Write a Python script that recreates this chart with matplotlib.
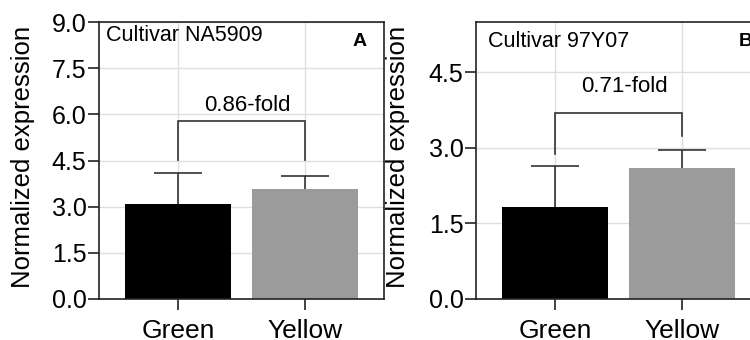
import matplotlib
matplotlib.use("Agg")
import matplotlib.pyplot as plt

plt.rcParams['font.family'] = ['Liberation Sans', 'DejaVu Sans']

categories = ["Green", "Yellow"]
bar_colors = ["#000000", "#9b9b9b"]

# Panel A
a_title = "Cultivar NA5909"
a_label = "A"
a_values = [3.08, 3.57]
a_err = [1.02, 0.43]
a_fold = "0.86-fold"
a_bracket_y = 5.78
a_bracket_legs = [4.52, 4.52]
a_fold_y = 6.3
a_yticks = [0.0, 1.5, 3.0, 4.5, 6.0, 7.5, 9.0]
a_ylim = (0, 9.0)

# Panel B
b_title = "Cultivar 97Y07"
b_label = "B"
b_values = [1.83, 2.60]
b_err = [0.82, 0.35]
b_fold = "0.71-fold"
b_bracket_y = 3.69
b_bracket_legs = [2.87, 3.24]
b_fold_y = 4.21
b_yticks = [0.0, 1.5, 3.0, 4.5]
b_ylim = (0, 5.5)

fig = plt.figure(figsize=(7.5, 3.4), dpi=100)

def panel(rect, values, errs, title, label, fold, by, legs, fy, yticks, ylim,
          title_xy, label_xy, ylabel_x):
    ax = fig.add_axes(rect)
    x = list(range(len(categories)))
    ax.set_axisbelow(True)
    ax.grid(True, color="#dedede", linewidth=1.0)
    ax.bar(x, values, width=0.83, color=bar_colors, zorder=2)
    cont = ax.errorbar(x, values, yerr=[[0] * len(errs), errs], fmt='none',
                       ecolor="#333333", elinewidth=1.2, capsize=17,
                       capthick=1.2, zorder=1.5)
    # hide the (zero-length) lower caps
    for cl in cont[1]:
        yd = list(cl.get_ydata())
        if all(abs(a - b) < 1e-9 for a, b in zip(yd, values)):
            cl.set_visible(False)
    # bracket
    ax.plot([x[0], x[0], x[1], x[1]], [legs[0], by, by, legs[1]],
            color="#333333", linewidth=1.2, zorder=3, solid_joinstyle='miter')
    ax.text((x[0] + x[1]) / 2 + 0.05, fy, fold, ha='center', va='center',
            fontsize=16)
    ax.set_xlim(-0.62, 1.62)
    ax.set_ylim(*ylim)
    ax.set_yticks(yticks)
    ax.set_yticklabels([f"{t:.1f}" for t in yticks])
    ax.set_xticks(x)
    ax.set_xticklabels(categories)
    ax.tick_params(axis='y', labelsize=18, length=8, width=1.2, pad=1,
                   color="#222222")
    ax.tick_params(axis='x', labelsize=19, length=8, width=1.2, pad=6.5,
                   color="#222222")
    for s in ax.spines.values():
        s.set_color("#222222")
        s.set_linewidth(1.2)
    ax.text(title_xy[0], title_xy[1], title, transform=ax.transAxes,
            ha='left', va='center', fontsize=15.5)
    ax.text(label_xy[0], label_xy[1], label, transform=ax.transAxes,
            ha='center', va='center', fontsize=14, fontweight='bold')
    fig.text(ylabel_x, 1 - 156.5 / 340, "Normalized expression", rotation=90,
             ha='center', va='center', fontsize=18.5)
    return ax

panel([99 / 750, 1 - 299 / 340, 285 / 750, 277 / 340], a_values, a_err,
      a_title, a_label, a_fold, a_bracket_y, a_bracket_legs, a_fold_y,
      a_yticks, a_ylim, (0.025, 0.953), (0.916, 0.93), 23 / 750)
panel([476 / 750, 1 - 299 / 340, 285 / 750, 277 / 340], b_values, b_err,
      b_title, b_label, b_fold, b_bracket_y, b_bracket_legs, b_fold_y,
      b_yticks, b_ylim, (0.042, 0.93), (0.945, 0.93), 398 / 750)

fig.savefig("out.png", dpi=100)
